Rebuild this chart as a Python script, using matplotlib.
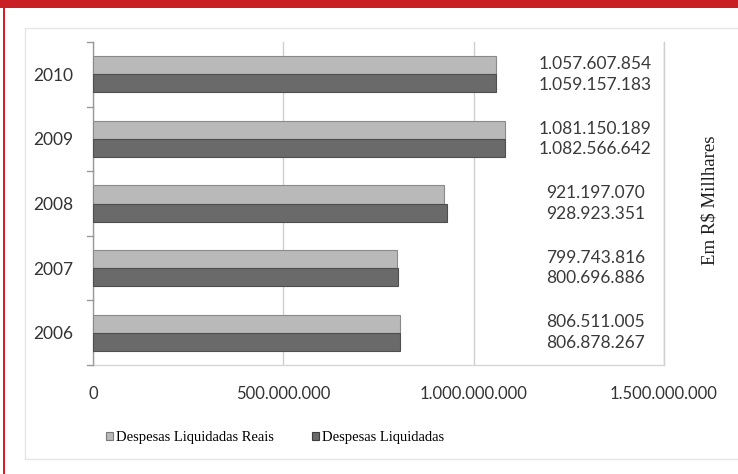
import matplotlib
matplotlib.use("Agg")
import matplotlib.pyplot as plt
from matplotlib.patches import Rectangle
import numpy as np

years = ["2006", "2007", "2008", "2009", "2010"]
reais = [806511005, 799743816, 921197070, 1081150189, 1057607854]
liquidadas = [806878267, 800696886, 928923351, 1082566642, 1059157183]
reais_labels = ["806.511.005", "799.743.816", "921.197.070", "1.081.150.189", "1.057.607.854"]
liq_labels = ["806.878.267", "800.696.886", "928.923.351", "1.082.566.642", "1.059.157.183"]
xticks = [0, 500000000, 1000000000, 1500000000]
xtick_labels = ["0", "500.000.000", "1.000.000.000", "1.500.000.000"]
series_names = ["Despesas Liquidadas Reais", "Despesas Liquidadas"]

W, H = 738, 474
fig = plt.figure(figsize=(W / 100, H / 100), dpi=100)
fig.patch.set_facecolor("white")

def px(x0, y0, w, h):
    return [x0 / W, 1 - (y0 + h) / H, w / W, h / H]

# decorative frame
fig.patches.append(Rectangle((0, 1 - 8 / H), 1, 8 / H, transform=fig.transFigure,
                             facecolor="#c81e24", edgecolor="none", zorder=0))
fig.patches.append(Rectangle((3 / W, 0), 2 / W, 1 - 8 / H, transform=fig.transFigure,
                             facecolor="#d81e24", edgecolor="none", zorder=0))
fig.patches.append(Rectangle((25 / W, 1 - 459 / H), 740 / W, (459 - 28) / H,
                             transform=fig.transFigure, facecolor="none",
                             edgecolor="#e6e6e6", linewidth=1.0, zorder=0))

ax = fig.add_axes(px(93, 42, 571, 323))
ax.set_facecolor("none")

sans = ["Lato", "DejaVu Sans"]
serif = ["Liberation Serif", "DejaVu Serif"]

y = np.arange(len(years))
h = 0.28
light = "#b9b9b9"
dark = "#6a6a6a"
ax.barh(y + h / 2, reais, height=h, color=light, edgecolor="#8a8a8a", linewidth=0.8, zorder=3)
ax.barh(y - h / 2, liquidadas, height=h, color=dark, edgecolor="#4e4e4e", linewidth=0.8, zorder=3)

for i in range(len(years)):
    ax.text(1.32e9, y[i] + 0.16, reais_labels[i], ha="center", va="center",
            fontsize=12.5, family=sans, color="#3a3a3a")
    ax.text(1.32e9, y[i] - 0.16, liq_labels[i], ha="center", va="center",
            fontsize=12.5, family=sans, color="#3a3a3a")

ax.set_xlim(0, 1.5e9)
ax.set_ylim(-0.5, len(years) - 0.5)
ax.set_xticks(xticks)
ax.set_xticklabels(xtick_labels, family=sans, fontsize=12, color="#333333")
ax.tick_params(axis="x", length=0, pad=15)
ax.grid(axis="x", color="#cfcfcf", linewidth=1.0, zorder=0)

ax.set_yticks(y)
ax.set_yticklabels(years, family=sans, fontsize=12.5, color="#333333")
ax.tick_params(axis="y", length=0, pad=14)
for b in np.arange(-0.5, len(years), 1.0):
    ax.plot([-0.01, 0], [b, b], transform=ax.get_yaxis_transform(), color="#9a9a9a",
            linewidth=1.0, clip_on=False, zorder=4)

for s in ["top", "right"]:
    ax.spines[s].set_visible(False)
ax.spines["left"].set_color("#9a9a9a")
ax.spines["left"].set_linewidth(1.0)
ax.spines["bottom"].set_color("#d6d6d6")
ax.spines["bottom"].set_linewidth(1.0)
ax.axvline(1.5e9, color="#cfcfcf", linewidth=1.0, zorder=0, clip_on=False)

fig.text(710 / W, 1 - 200 / H, "Em R$ Millhares", rotation=90, ha="center", va="center",
         family=serif, fontsize=13.5, color="#1e1e1e")

handles = [Rectangle((0, 0), 1, 1, facecolor=light, edgecolor="#7a7a7a", linewidth=0.8),
           Rectangle((0, 0), 1, 1, facecolor=dark, edgecolor="#3e3e3e", linewidth=0.8)]
leg = fig.legend(handles, series_names, loc="center", bbox_to_anchor=(275 / W, 1 - 438 / H),
                 ncol=2, frameon=False, prop={"family": serif, "size": 10.5},
                 handlelength=0.5, handleheight=0.5, handletextpad=0.2, columnspacing=2.6)

fig.savefig("out.png", dpi=100, facecolor="white")
